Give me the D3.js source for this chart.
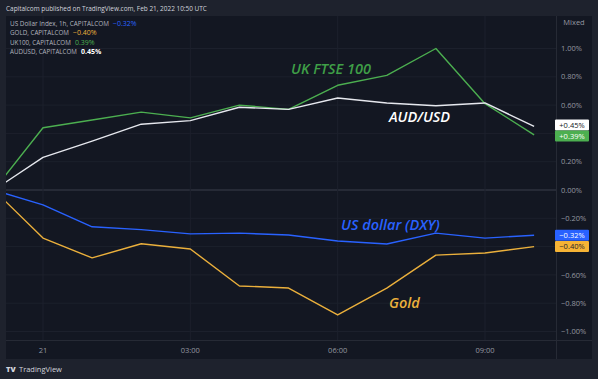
<!DOCTYPE html>
<html>
<head>
<meta charset="utf-8">
<script src="https://cdn.jsdelivr.net/npm/d3@7"></script>
<style>
  html, body { margin: 0; padding: 0; background: #1e222d; }
  svg { display: block; font-family: "Open Sans", "Noto Sans", sans-serif; }
</style>
</head>
<body>
<div id="chart"></div>
<script>
// hourly bars, Feb 20 23:00 -> Feb 21 10:00 UTC (% change vs first bar)
const times = ["2022-02-20T23:00Z", "2022-02-21T00:00Z", "2022-02-21T01:00Z", "2022-02-21T02:00Z",
  "2022-02-21T03:00Z", "2022-02-21T04:00Z", "2022-02-21T05:00Z", "2022-02-21T06:00Z",
  "2022-02-21T07:00Z", "2022-02-21T08:00Z", "2022-02-21T09:00Z", "2022-02-21T10:00Z"];

const uk100  = [0, 0.44, 0.495, 0.55, 0.51, 0.60, 0.57, 0.74, 0.81, 1.00, 0.61, 0.39];
const audusd = [0, 0.23, 0.345, 0.465, 0.49, 0.585, 0.57, 0.65, 0.615, 0.595, 0.615, 0.45];
const dxy    = [0, -0.105, -0.26, -0.28, -0.31, -0.305, -0.318, -0.36, -0.382, -0.305, -0.34, -0.32];
const gold   = [0, -0.34, -0.48, -0.38, -0.417, -0.678, -0.693, -0.883, -0.693, -0.46, -0.445, -0.40];

const priceTicks = [1.0, 0.8, 0.6, 0.4, 0.2, 0, -0.2, -0.4, -0.6, -0.8, -1.0];
const timeTicks = ["2022-02-21T00:00Z", "2022-02-21T03:00Z", "2022-02-21T06:00Z", "2022-02-21T09:00Z"];

const series = [
  { name: "US Dollar Index, 1h, CAPITALCOM", values: dxy, color: "#2962ff", legend: "-0.32%", box: "-0.32%", boxFill: "#2962ff", boxText: "#ffffff", note: "US dollar (DXY)", noteX: 341, noteY: 230 },
  { name: "GOLD, CAPITALCOM", values: gold, color: "#ebb03c", legend: "-0.40%", box: "-0.40%", boxFill: "#f5b335", boxText: "#1e222d", note: "Gold", noteX: 389, noteY: 308 },
  { name: "UK100, CAPITALCOM", values: uk100, color: "#4caf50", legend: "0.39%", box: "+0.39%", boxFill: "#4caf50", boxText: "#ffffff", note: "UK FTSE 100", noteX: 291, noteY: 74, noteColor: "#3f9f47" },
  { name: "AUDUSD, CAPITALCOM", values: audusd, color: "#e6e8ee", legend: "0.45%", box: "+0.45%", boxFill: "#ffffff", boxText: "#131722", note: "AUD/USD", noteX: 389, noteY: 122, noteColor: "#ffffff" }
];

const W = 598, H = 379;
const pane = { left: 6, top: 16, right: 592, bottom: 359 };
const plotRight = 556, plotBottom = 340;

const svg = d3.select("#chart").append("svg")
  .attr("width", W)
  .attr("height", H);

svg.append("rect").attr("width", W).attr("height", H).attr("fill", "#1e222d");
svg.append("rect")
  .attr("x", pane.left).attr("y", pane.top)
  .attr("width", pane.right - pane.left).attr("height", pane.bottom - pane.top)
  .attr("fill", "#131722");

const x = d3.scaleUtc()
  .domain([new Date("2022-02-21T00:00Z"), new Date("2022-02-21T09:00Z")])
  .range([43, 485]);

const y = d3.scaleLinear()
  .domain([-1, 1])
  .range([331.5, 48.5]);

// grid
const grid = svg.append("g");
grid.selectAll(".hgrid")
  .data(priceTicks)
  .enter()
  .append("line")
  .attr("x1", pane.left).attr("x2", plotRight)
  .attr("y1", d => y(d)).attr("y2", d => y(d))
  .attr("stroke", d => d === 0 ? "#3a3e4a" : "#1c202c")
  .attr("stroke-width", 1);

grid.selectAll(".vgrid")
  .data(timeTicks)
  .enter()
  .append("line")
  .attr("x1", d => x(new Date(d))).attr("x2", d => x(new Date(d)))
  .attr("y1", pane.top).attr("y2", plotBottom)
  .attr("stroke", "#1c202c");

// separators
svg.append("line")
  .attr("x1", pane.left).attr("x2", pane.right)
  .attr("y1", plotBottom + 0.5).attr("y2", plotBottom + 0.5)
  .attr("stroke", "#262a35");
svg.append("line")
  .attr("x1", plotRight + 0.5).attr("x2", plotRight + 0.5)
  .attr("y1", pane.top).attr("y2", pane.bottom)
  .attr("stroke", "#262a35");

// lines, clipped to the plot area
svg.append("clipPath").attr("id", "plotClip")
  .append("rect")
  .attr("x", pane.left).attr("y", pane.top)
  .attr("width", plotRight - pane.left).attr("height", plotBottom - pane.top);

const line = d3.line()
  .x((d, i) => x(new Date(times[i])))
  .y(d => y(d));

const lines = svg.append("g").attr("clip-path", "url(#plotClip)");
series.forEach(s => {
  lines.append("path")
    .datum(s.values)
    .attr("fill", "none")
    .attr("stroke", s.color)
    .attr("stroke-width", 1.4)
    .attr("stroke-linejoin", "round")
    .attr("d", line);
});

// annotations on the chart
series.forEach(s => {
  svg.append("text")
    .attr("x", s.noteX)
    .attr("y", s.noteY)
    .text(s.note)
    .style("font-size", "14.5px")
    .style("font-style", "italic")
    .style("font-weight", "600")
    .style("fill", s.noteColor || s.color);
});

// last value labels, nudged apart when they overlap
const boxH = 11;
const boxes = series.map(s => ({ s, y: y(s.values[s.values.length - 1]) }))
  .sort((a, b) => a.y - b.y);
for (let k = 0; k < 5; k++) {
  for (let i = 1; i < boxes.length; i++) {
    const gap = boxes[i].y - boxes[i - 1].y;
    if (gap < boxH) {
      const shift = (boxH - gap) / 2;
      boxes[i - 1].y -= shift;
      boxes[i].y += shift;
    }
  }
}

// price axis (labels hidden behind a value box are skipped, like the app does)
const visibleTicks = priceTicks.filter(t => boxes.every(b => Math.abs(y(t) - b.y) > 9));
svg.selectAll(".ptick")
  .data(visibleTicks)
  .enter()
  .append("text")
  .attr("x", 561)
  .attr("y", d => y(d))
  .attr("dy", "0.35em")
  .text(d => d3.format(".2f")(d).replace("-", "\u2212") + "%")
  .style("font-size", "7.5px")
  .style("fill", "#9598a1");

svg.append("text")
  .attr("x", 574).attr("y", 22)
  .attr("dy", "0.35em")
  .attr("text-anchor", "middle")
  .text("Mixed")
  .style("font-size", "7.5px")
  .style("fill", "#9598a1");

boxes.forEach(b => {
  svg.append("rect")
    .attr("x", 555).attr("y", b.y - boxH / 2)
    .attr("width", 34).attr("height", boxH)
    .attr("rx", 1)
    .attr("fill", b.s.boxFill);
  svg.append("text")
    .attr("x", 572).attr("y", b.y)
    .attr("dy", "0.35em")
    .attr("text-anchor", "middle")
    .text(b.s.box.replace("-", "\u2212"))
    .style("font-size", "7.5px")
    .style("fill", b.s.boxText);
});

// time axis
svg.selectAll(".ttick")
  .data(timeTicks)
  .enter()
  .append("text")
  .attr("x", d => x(new Date(d)))
  .attr("y", 350)
  .attr("dy", "0.35em")
  .attr("text-anchor", "middle")
  .text(d => {
    const t = new Date(d);
    return t.getUTCHours() === 0 ? d3.utcFormat("%-d")(t) : d3.utcFormat("%H:%M")(t);
  })
  .style("font-size", "7.5px")
  .style("fill", "#9598a1");

// shrink a text's font until its natural width fits the target
function fitWidth(sel, target, size) {
  sel.style("font-size", size + "px");
  const w = sel.node().getComputedTextLength();
  if (w > target) sel.style("font-size", (size * target / w) + "px");
  return sel;
}

// header + legend
fitWidth(svg.append("text")
  .attr("x", 6).attr("y", 8.5)
  .attr("dy", "0.35em")
  .text("Capitalcom published on TradingView.com, Feb 21, 2022 10:50 UTC")
  .style("fill", "#d1d4dc"), 201, 7.5);

const legendY = [23.5, 33, 42.5, 52];
const legendW = [99, 59, 61, 67];
series.forEach((s, i) => {
  fitWidth(svg.append("text")
    .attr("x", 10).attr("y", legendY[i])
    .attr("dy", "0.35em")
    .text(s.name)
    .style("fill", "#b2b5be"), legendW[i], 7);
  svg.append("text")
    .attr("x", 10 + legendW[i] + 4).attr("y", legendY[i])
    .attr("dy", "0.35em")
    .text(s.legend.replace("-", "\u2212"))
    .style("font-size", "7px")
    .style("font-weight", i === 3 ? "700" : "400")
    .style("fill", i === 3 ? "#ffffff" : s.color);
});

// footer logo
svg.append("text")
  .attr("x", 6).attr("y", 369)
  .attr("dy", "0.35em")
  .text("TV")
  .style("font-size", "7.5px")
  .style("font-weight", "800")
  .style("fill", "#d1d4dc");
svg.append("text")
  .attr("x", 19).attr("y", 369)
  .attr("dy", "0.35em")
  .text("TradingView")
  .style("font-size", "7.5px")
  .style("fill", "#d1d4dc");
</script>
</body>
</html>
